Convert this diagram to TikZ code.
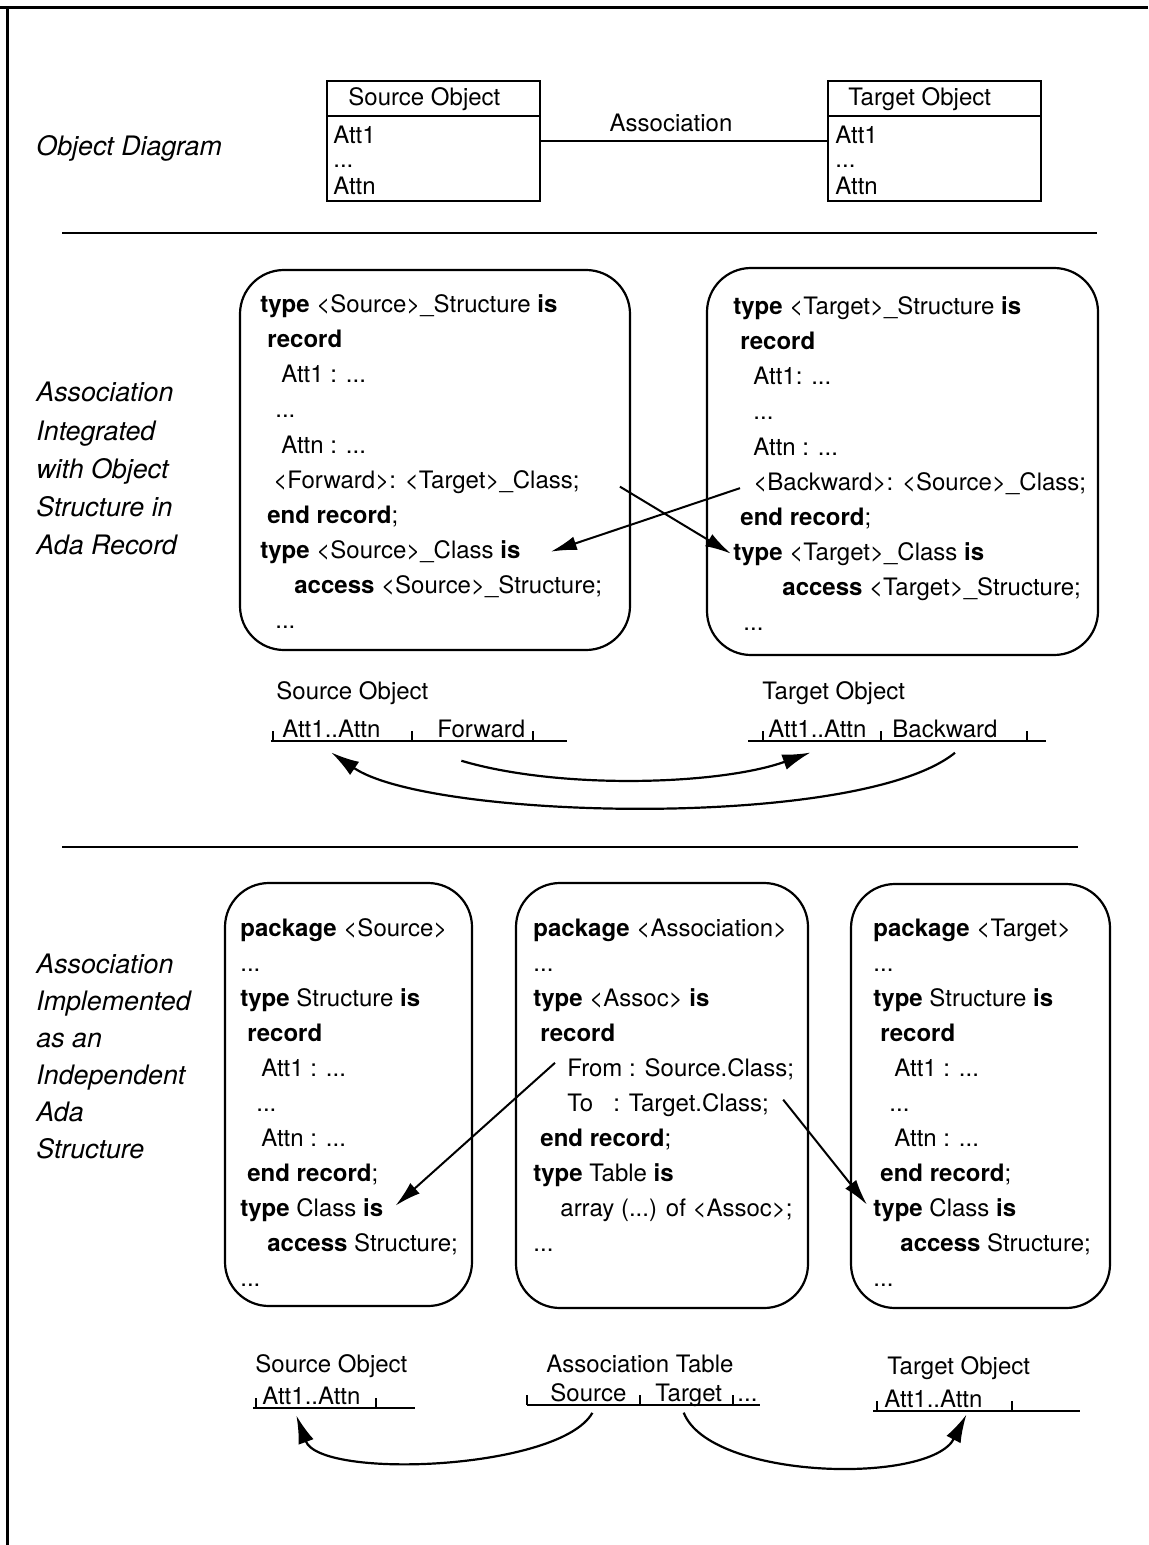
\documentclass[tikz,border=0pt]{standalone}
\usepackage{fontspec}
\setmainfont{TeX Gyre Heros}
\usetikzlibrary{arrows.meta}
\usetikzlibrary{calc}
\newcommand{\trail}{...}

\begin{document}
\begin{tikzpicture}[x=0.5pt, y=-0.5pt, font=\fontsize{12}{14}\selectfont,
        frame/.style={line width=1.5pt},
        rule/.style={line width=1.1pt},
        objbox/.style={draw, line width=0.9pt, anchor=north west, minimum width=106.5pt, minimum height=60pt, inner sep=0pt},
        codebox/.style={line width=1.1pt, rounded corners=22pt},
        codeline/.style={anchor=base west, inner sep=0pt},
        caption/.style={anchor=base west, inner sep=0pt, font=\fontsize{13.4}{16}\selectfont\itshape},
        field/.style={anchor=base west, inner sep=0pt},
        link/.style={line width=1pt, -{Latex[length=13pt, width=7pt]}},
        curvelink/.style={line width=1.1pt, -{Latex[length=14pt, width=8pt]}}]
    \useasboundingbox (0,0) rectangle (1148,1545);
    \draw[frame] (0,8) -- (1148,8);
    \draw[frame] (7,8) -- (7,1545);

    % object diagram
    \node[caption] (capA) at (36,156) {Object Diagram};
    \node[objbox] (srcobj) at (326,80) {};
    \node[objbox] (tgtobj) at (827,80) {};
    \foreach \b in {srcobj, tgtobj}
        \draw[line width=0.9pt] ([yshift=-18pt]\b.north west) -- ([yshift=-18pt]\b.north east);
    \node[field] (srcname) at (348,106) {Source Object};
    \node[field] (tgtname) at (848,106) {Target Object};
    \foreach \b/\x in {src/333, tgt/835} {
        \node[field] (\b-att1) at (\x,144) {Att1};
        \node[field] (\b-dots) at (\x,168) {\trail};
        \node[field] (\b-attn) at (\x,195) {Attn};
    }
    \draw[line width=0.9pt] (srcobj.east) -- (tgtobj.west)
        node[pos=0.455, above=4pt, inner sep=0pt] (assoc) {Association};
    \draw[rule] (62,233) -- (1097,233);

    % association inside the records
    \foreach \txt [count=\k] in {Association, Integrated, with Object, Structure in, Ada Record}
        \node[caption] (capB\k) at (36, 364+38*\k) {\txt};
    \draw[codebox] (240,270) rectangle (630,650);
    \draw[codebox] (707,268) rectangle (1098,655);
    \foreach \dx/\txt [count=\k] in {0/{\textbf{type} <Source>\_Structure \textbf{is}}, 7/{\textbf{record}},
            21/{Att1 : \trail}, 15/{\trail}, 21/{Attn : \trail}, 13/{<Forward>: <Target>\_Class;},
            7/{\textbf{end record};}, 0/{\textbf{type} <Source>\_Class \textbf{is}},
            34/{\textbf{access} <Source>\_Structure;}, 15/{\trail}}
        \node[codeline] (sa\k) at (260+\dx, 278+35*\k) {\txt};
    \foreach \dx/\txt [count=\k] in {0/{\textbf{type} <Target>\_Structure \textbf{is}}, 7/{\textbf{record}},
            20/{Att1: \trail}, 20/{\trail}, 20/{Attn : \trail}, 20/{<Backward>: <Source>\_Class;},
            7/{\textbf{end record};}, 0/{\textbf{type} <Target>\_Class \textbf{is}},
            49/{\textbf{access} <Target>\_Structure;}, 10/{\trail}}
        \node[codeline] (tb\k) at (733+\dx, 280+35*\k) {\txt};
    \draw[link] ($(sa6.east)+(40,5)$) -- ($(tb8.west)+(-2,0)$);
    \draw[link] ($(tb6.west)+(-13,5)$) -- ($(sa8.east)+(30,0)$);

    \node[field] (srcobjB) at (276,699) {Source Object};
    \node[field] (srcattB) at (282,737) {Att1..Attn};
    \node[field] (srcfwd) at (437,737) {Forward};
    \draw[rule] (271,741) -- (567,741);
    \foreach \tx in {273, 412, 533}
        \draw[rule] (\tx,731) -- (\tx,741);
    \node[field] (tgtobjB) at (762,699) {Target Object};
    \node[field] (tgtattB) at (768,737) {Att1..Attn};
    \node[field] (tgtbwd) at (892,737) {Backward};
    \draw[rule] (748,741) -- (1046,741);
    \foreach \tx in {763, 881, 1027}
        \draw[rule] (\tx,731) -- (\tx,741);
    \draw[curvelink] ($(srcfwd.south)+(-20,23)$) .. controls (560,790) and (720,785) .. ($(tgtattB.south)+(-7,15)$);
    \draw[curvelink] ($(tgtbwd.south)+(10,15)$) .. controls (860,830) and (430,820) .. ($(srcattB.south)+(0,15)$);
    \draw[rule] (62,847) -- (1078,847);

    % association as a separate package
    \foreach \txt [count=\k] in {Association, Implemented, as an, Independent, Ada, Structure}
        \node[caption] (capC\k) at (36, 936+37*\k) {\txt};
    \draw[codebox] (225,883) rectangle (472,1306);
    \draw[codebox] (516,883) rectangle (808,1308);
    \draw[codebox] (851,884) rectangle (1110,1308);
    \foreach \dx/\txt [count=\k] in {0/{\textbf{package} <Source>}, 0/{\trail}, 0/{\textbf{type} Structure \textbf{is}},
            7/{\textbf{record}}, 21/{Att1 : \trail}, 16/{\trail}, 21/{Attn : \trail}, 7/{\textbf{end record};},
            0/{\textbf{type} Class \textbf{is}}, 27/{\textbf{access} Structure;}, 0/{\trail}}
        \node[codeline] (pa\k) at (240+\dx, 901+35*\k) {\txt};
    \foreach \dx/\txt [count=\k] in {0/{\textbf{package} <Association>}, 0/{\trail}, 0/{\textbf{type} <Assoc> \textbf{is}},
            7/{\textbf{record}}, 34/{From : Source.Class;}, 34/{To\ \ \ : Target.Class;}, 7/{\textbf{end record};},
            0/{\textbf{type} Table \textbf{is}}, 27/{array (\trail) of <Assoc>;}, 0/{\trail}}
        \node[codeline] (pb\k) at (533+\dx, 901+35*\k) {\txt};
    \foreach \dx/\txt [count=\k] in {0/{\textbf{package} <Target>}, 0/{\trail}, 0/{\textbf{type} Structure \textbf{is}},
            7/{\textbf{record}}, 21/{Att1 : \trail}, 16/{\trail}, 21/{Attn : \trail}, 7/{\textbf{end record};},
            0/{\textbf{type} Class \textbf{is}}, 27/{\textbf{access} Structure;}, 0/{\trail}}
        \node[codeline] (pc\k) at (873+\dx, 901+35*\k) {\txt};
    \draw[link] ($(pb5.west)+(-12,-6)$) -- ($(pa9.east)+(12,-4)$);
    \draw[link] ($(pb6.east)+(14,-5)$) -- ($(pc9.west)+(-6,-5)$);

    \node[field] (srcobjC) at (255,1372) {Source Object};
    \node[field] (srcattC) at (262,1404) {Att1..Attn};
    \draw[rule] (253,1408) -- (415,1408);
    \foreach \tx in {256, 376}
        \draw[rule] (\tx,1398) -- (\tx,1408);
    \node[field] (tabname) at (546,1372) {Association Table};
    \node[field] (tabsrc) at (550,1401) {Source};
    \node[field] (tabtgt) at (655,1401) {Target};
    \node[field] (tabmore) at (737,1401) {\trail};
    \draw[rule] (527,1405) -- (760,1405);
    \foreach \tx in {527, 640, 733}
        \draw[rule] (\tx,1395) -- (\tx,1405);
    \node[field] (tgtobjC) at (887,1374) {Target Object};
    \node[field] (tgtattC) at (884,1407) {Att1..Attn};
    \draw[rule] (873,1411) -- (1080,1411);
    \foreach \tx in {877, 1012}
        \draw[rule] (\tx,1401) -- (\tx,1411);
    \draw[curvelink] ($(tabsrc.south)+(4,11)$) .. controls (560,1470) and (320,1480) .. ($(srcattC.south)+(-15,11)$);
    \draw[curvelink] ($(tabtgt.south)+(-5,6)$) .. controls (710,1480) and (930,1485) .. ($(tgtattC.south)+(33,7)$);
\end{tikzpicture}
\end{document}
